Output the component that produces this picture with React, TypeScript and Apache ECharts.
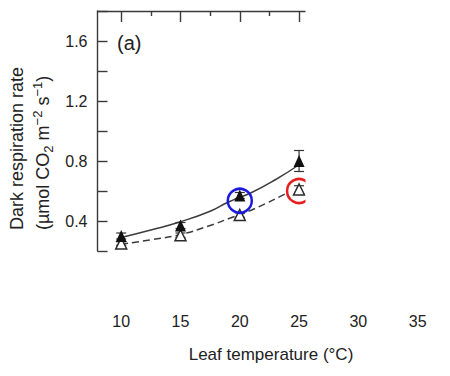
import React, { useEffect, useRef } from "react";
import * as echarts from "echarts";

// Data
const temps = [10, 15, 20, 25];
const darkFilled = [0.30, 0.37, 0.57, 0.80];
const darkFilledErr = [0.02, 0.02, 0.02, 0.07];
const darkOpen = [0.25, 0.305, 0.44, 0.61];
const darkOpenErr = [0.012, 0.015, 0.015, 0.025];

const fitSolidX = [10, 12.5, 15, 17.5, 19, 21, 23, 25];
const fitSolidY = [0.29, 0.34, 0.395, 0.465, 0.525, 0.59, 0.675, 0.775];
const fitDashedX = [10, 12.5, 15, 17.5, 19.2, 21, 23.8];
const fitDashedY = [0.245, 0.275, 0.31, 0.37, 0.42, 0.473, 0.58];

const blueCircle = [[20, 0.535]];
const redCircle = [[25, 0.60]];

const xMajorTicks = [10, 15, 20, 25, 30, 35];
const xMinorTicks = [12.5, 17.5, 22.5, 27.5, 32.5];
const yLabelValues = [0.4, 0.8, 1.2, 1.6];

const FONT = "'Liberation Sans', Arial, Helvetica, sans-serif";
const AXIS_COLOR = "#3a3a3a";
const TEXT_COLOR = "#222";

export default function App() {
  const ref = useRef<HTMLDivElement>(null);

  useEffect(() => {
    if (!ref.current) return;
    const chart = echarts.init(ref.current, null, { renderer: "svg" });

    const errData = (means: number[], errs: number[]) =>
      temps.map((t, i) => [t, means[i] - errs[i], means[i] + errs[i]]);

    const errRender = (params: any, api: any) => {
      const x = api.value(0);
      const lo = api.value(1);
      const hi = api.value(2);
      const pHi = api.coord([x, hi]);
      const pLo = api.coord([x, lo]);
      const w = 5;
      const style = { stroke: "#333", lineWidth: 1.2 };
      return {
        type: "group",
        children: [
          { type: "line", shape: { x1: pHi[0], y1: pHi[1], x2: pLo[0], y2: pLo[1] }, style },
          { type: "line", shape: { x1: pHi[0] - w, y1: pHi[1], x2: pHi[0] + w, y2: pHi[1] }, style },
          { type: "line", shape: { x1: pLo[0] - w, y1: pLo[1], x2: pLo[0] + w, y2: pLo[1] }, style },
        ],
      };
    };

    const gridLeft = 97.5;
    const gridTop = 11;
    const gridWidth = 332;
    const gridHeight = 240;

    chart.setOption({
      animation: false,
      backgroundColor: "#fff",
      textStyle: { fontFamily: FONT },
      grid: { left: gridLeft, top: gridTop, width: gridWidth, height: gridHeight },
      xAxis: [
        {
          type: "value",
          position: "top",
          min: 8,
          max: 36,
          axisLine: { show: true, lineStyle: { color: AXIS_COLOR, width: 1.4 } },
          axisTick: { show: true, inside: true, length: 11, customValues: xMajorTicks, lineStyle: { color: AXIS_COLOR, width: 1.4 } },
          axisLabel: { show: false },
          splitLine: { show: false },
        },
        {
          type: "value",
          position: "top",
          min: 8,
          max: 36,
          axisLine: { show: false },
          axisTick: { show: true, inside: true, length: 5, customValues: xMinorTicks, lineStyle: { color: AXIS_COLOR, width: 1.4 } },
          axisLabel: { show: false },
          splitLine: { show: false },
        },
        {
          type: "value",
          position: "bottom",
          min: 8,
          max: 36,
          axisLine: { show: false },
          axisTick: { show: false },
          axisLabel: {
            show: true,
            customValues: xMajorTicks,
            margin: 62,
            fontSize: 16,
            color: TEXT_COLOR,
            fontFamily: FONT,
            formatter: (v: number) => String(v),
          },
          splitLine: { show: false },
        },
      ],
      yAxis: {
        type: "value",
        min: 0.2,
        max: 1.8,
        interval: 0.2,
        axisLine: { show: true, lineStyle: { color: AXIS_COLOR, width: 1.4 } },
        axisTick: { show: true, inside: true, length: 10, lineStyle: { color: AXIS_COLOR, width: 1.4 } },
        axisLabel: {
          margin: 10,
          fontSize: 16,
          color: TEXT_COLOR,
          fontFamily: FONT,
          formatter: (v: number) => (yLabelValues.some((t) => Math.abs(t - v) < 1e-6) ? v.toFixed(1) : ""),
        },
        splitLine: { show: false },
      },
      series: [
        {
          type: "line",
          data: fitSolidX.map((x, i) => [x, fitSolidY[i]]),
          smooth: true,
          showSymbol: false,
          lineStyle: { color: "#3c3c3c", width: 1.5 },
          silent: true,
          z: 1,
        },
        {
          type: "line",
          data: fitDashedX.map((x, i) => [x, fitDashedY[i]]),
          smooth: true,
          showSymbol: false,
          lineStyle: { color: "#3c3c3c", width: 1.5, type: [7, 4] },
          silent: true,
          z: 1,
        },
        { type: "custom", data: errData(darkOpen, darkOpenErr), renderItem: errRender, silent: true, z: 2 },
        { type: "custom", data: errData(darkFilled, darkFilledErr), renderItem: errRender, silent: true, z: 2 },
        {
          type: "scatter",
          data: temps.map((t, i) => [t, darkOpen[i]]),
          symbol: "triangle",
          symbolSize: [11, 11],
          itemStyle: { color: "#fff", borderColor: "#2a2a2a", borderWidth: 1.5, opacity: 1 },
          silent: true,
          z: 3,
        },
        {
          type: "scatter",
          data: temps.map((t, i) => [t, darkFilled[i]]),
          symbol: "triangle",
          symbolSize: [11, 12],
          itemStyle: { color: "#111", opacity: 1 },
          silent: true,
          z: 3,
        },
        {
          type: "scatter",
          data: blueCircle,
          symbol: "circle",
          symbolSize: 24,
          itemStyle: { color: "rgba(0,0,0,0)", borderColor: "#1a1adf", borderWidth: 2.5, opacity: 1 },
          silent: true,
          z: 4,
        },
        {
          type: "scatter",
          data: redCircle,
          symbol: "circle",
          symbolSize: 24,
          itemStyle: { color: "rgba(0,0,0,0)", borderColor: "#e61e1e", borderWidth: 2.5, opacity: 1 },
          silent: true,
          z: 4,
        },
      ],
      graphic: [
        {
          type: "rect",
          shape: { x: 305.5, y: 0, width: 160, height: 262 },
          style: { fill: "#fff" },
          z: 100,
          silent: true,
        },
        {
          type: "text",
          x: 117,
          y: 43,
          style: { text: "(a)", font: `20px ${FONT}`, fill: TEXT_COLOR, align: "left", verticalAlign: "middle" },
          z: 101,
        },
        {
          type: "text",
          x: 17,
          y: 230,
          rotation: Math.PI / 2,
          style: { text: "Dark respiration rate", font: `18px ${FONT}`, fill: TEXT_COLOR, align: "left", verticalAlign: "middle" },
          z: 101,
        },
        {
          type: "text",
          x: 43,
          y: 230,
          rotation: Math.PI / 2,
          style: {
            text: "{n|(µmol CO}{sub|2}{n| m}{sup|−2}{n| s}{sup|−1}{n|)}",
            align: "left",
            verticalAlign: "middle",
            fill: TEXT_COLOR,
            rich: {
              n: { fontSize: 18, fontFamily: FONT, fill: TEXT_COLOR, lineHeight: 24, verticalAlign: "middle" },
              sub: { fontSize: 13, fontFamily: FONT, fill: TEXT_COLOR, lineHeight: 24, verticalAlign: "bottom" },
              sup: { fontSize: 13, fontFamily: FONT, fill: TEXT_COLOR, lineHeight: 24, verticalAlign: "top" },
            },
          },
          z: 101,
        },
        {
          type: "text",
          x: 271,
          y: 354,
          style: { text: "Leaf temperature (°C)", font: `17px ${FONT}`, fill: TEXT_COLOR, align: "center", verticalAlign: "middle" },
          z: 101,
        },
      ],
    });

    return () => chart.dispose();
  }, []);

  return (
    <div
      ref={ref}
      style={{ position: "fixed", left: 0, top: 0, width: 450, height: 376, background: "#fff" }}
    />
  );
}
